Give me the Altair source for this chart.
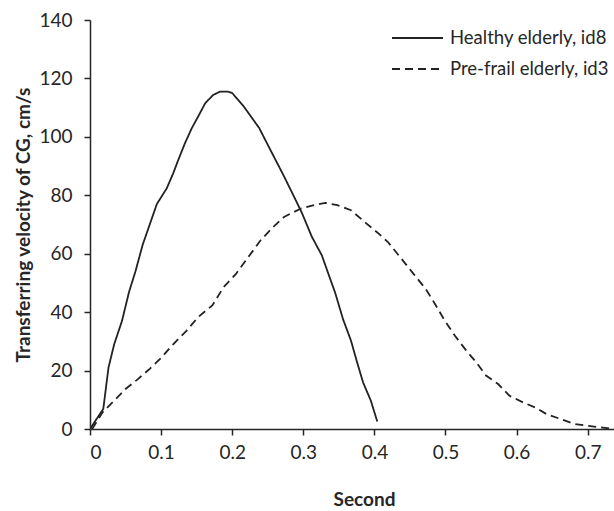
import altair as alt
import pandas as pd

healthy_t = [0.0, 0.0187, 0.026, 0.034, 0.045, 0.055, 0.064, 0.074, 0.084, 0.094, 0.108,
             0.117, 0.124, 0.133, 0.143, 0.152, 0.162, 0.173, 0.183, 0.194, 0.2, 0.216, 0.238, 0.254, 0.271,
             0.284, 0.298, 0.312, 0.326, 0.334, 0.345, 0.356, 0.367, 0.375, 0.384, 0.395, 0.404]
healthy_v = [0.0, 6.9, 21.0, 29.0, 37.0, 47.0, 54.0, 63.0, 70.0, 77.0, 82.4,
             87.5, 92.0, 97.5, 102.9, 106.9, 111.5, 114.3, 115.5, 115.5, 115.0, 110.5, 103.0, 95.4, 87.4,
             81.0, 74.0, 65.8, 59.5, 54.0, 46.5, 37.5, 30.3, 23.4, 16.0, 9.7, 2.6]

prefrail_t = [0.003, 0.0176, 0.034, 0.05, 0.067, 0.084, 0.1, 0.117, 0.136, 0.152, 0.172,
              0.188, 0.205, 0.221, 0.24, 0.257, 0.273, 0.296, 0.315, 0.331, 0.348, 0.367,
              0.389, 0.406, 0.419, 0.436, 0.455, 0.472, 0.485, 0.499, 0.513, 0.529, 0.543,
              0.557, 0.574, 0.59, 0.609, 0.626, 0.642, 0.662, 0.681, 0.7, 0.717, 0.737]
prefrail_v = [0.0, 5.7, 9.7, 13.7, 17.0, 20.6, 24.3, 29.0, 33.7, 38.3, 42.3,
              48.6, 53.0, 58.3, 64.6, 69.0, 72.6, 75.4, 76.6, 77.4, 76.6, 74.9,
              70.3, 66.9, 64.0, 58.9, 53.1, 48.0, 42.9, 37.1, 32.0, 26.9, 22.9,
              18.3, 15.4, 11.4, 9.1, 7.4, 5.1, 3.4, 1.7, 1.1, 0.6, 0.0]

series_names = ["Healthy elderly, id8", "Pre-frail elderly, id3"]
y_ticks = [0, 20, 40, 60, 80, 100, 120, 140]
x_ticks = [0, 0.1, 0.2, 0.3, 0.4, 0.5, 0.6, 0.7]

df = pd.concat([
    pd.DataFrame({"t": healthy_t, "v": healthy_v, "group": series_names[0], "order": range(len(healthy_t))}),
    pd.DataFrame({"t": prefrail_t, "v": prefrail_v, "group": series_names[1], "order": range(len(prefrail_t))}),
])
legend_df = pd.DataFrame({"group": series_names})

FONT = "Lato"
INK = "#262626"
LINE = "#222222"

dash_scale = alt.Scale(domain=series_names, range=[[1, 0], [8, 5]])

lines = alt.Chart(df).mark_line(strokeWidth=1.8, color=LINE, clip=True).encode(
    x=alt.X("t:Q", scale=alt.Scale(domain=[0, 0.737], nice=False, zero=True),
            axis=alt.Axis(values=x_ticks, format=".1~f", title="Second",
                          titleX=274, titleY=70, titleBaseline="middle", titleAlign="center",
                          labelPadding=8)),
    y=alt.Y("v:Q", scale=alt.Scale(domain=[0, 140], nice=False),
            axis=alt.Axis(values=y_ticks, title="Transferring velocity of CG, cm/s",
                          titleX=-67, titleY=204.5, titleAngle=-90, titleAlign="center",
                          titleBaseline="middle", labelPadding=12)),
    strokeDash=alt.StrokeDash("group:N", scale=dash_scale, legend=None),
    order="order:Q",
)

leg_y = alt.Y("group:N", scale=alt.Scale(type="point", domain=series_names, range=[18, 49], padding=0),
              axis=None)

leg_rules = alt.Chart(legend_df).mark_rule(strokeWidth=1.8, color=LINE).encode(
    x=alt.value(302), x2=alt.value(353), y=leg_y,
    strokeDash=alt.StrokeDash("group:N", scale=dash_scale, legend=None),
)
leg_text = alt.Chart(legend_df).mark_text(align="left", baseline="middle", font=FONT,
                                          fontSize=18.5, color=INK).encode(
    x=alt.value(360), y=leg_y, text="group:N",
)

chart = alt.layer(lines, leg_rules, leg_text).resolve_scale(y="independent").properties(
    width=524, height=409,
    autosize=alt.AutoSizeParams(type="none"),
    padding={"left": 90, "top": 20, "right": 0, "bottom": 82},
).configure_view(stroke=None).configure_axis(
    grid=False, domainColor=INK, domainWidth=1.5, tickColor=INK, tickWidth=1.5, tickSize=6,
    labelFont=FONT, labelFontSize=19, labelColor=INK,
    titleFont=FONT, titleFontSize=19, titleFontWeight="bold", titleColor=INK,
)

chart.save("out.html", embed_options={"renderer": "svg", "actions": False})
